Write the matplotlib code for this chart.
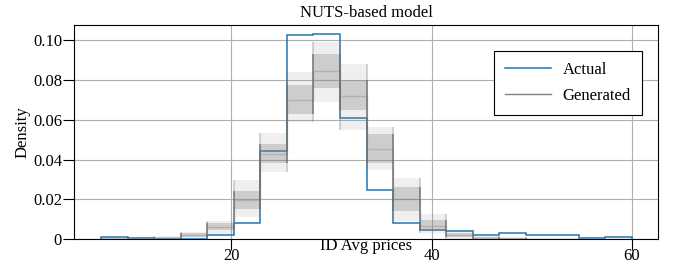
import numpy as np
import matplotlib
matplotlib.use("Agg")
import matplotlib.pyplot as plt

plt.rcParams['font.family'] = 'serif'
plt.rcParams['font.serif'] = ['Liberation Serif', 'DejaVu Serif']

# histogram bin edges (ID Avg prices)
bin_edges = [7.0, 9.65, 12.3, 14.95, 17.6, 20.25, 22.9, 25.55, 28.2, 30.85, 33.5,
             36.15, 38.8, 41.45, 44.1, 46.75, 49.4, 52.05, 54.7, 57.35, 60.0]

# actual density per bin
actual = [0.0013, 0.0008, 0.0003, 0.0002, 0.0022, 0.0084, 0.0444, 0.1027, 0.1029, 0.0610,
          0.0246, 0.0080, 0.0048, 0.0040, 0.0022, 0.0032, 0.0023, 0.0023, 0.0005, 0.0010]

# spread of the generated histograms per bin (min, lower core, middle, upper core, max)
gen_lo = [0.0, 0.0, 0.0, 0.0008, 0.0025, 0.0110, 0.0340, 0.0590, 0.0690, 0.0550,
          0.0350, 0.0090, 0.0030, 0.0004, 0.0, 0.0, 0.0, 0.0, 0.0, 0.0]
gen_q1 = [0.0002, 0.0001, 0.0003, 0.0014, 0.0045, 0.0150, 0.0385, 0.0630, 0.0760, 0.0650,
          0.0385, 0.0140, 0.0040, 0.0010, 0.0004, 0.0002, 0.0001, 0.0001, 0.0, 0.0]
gen_mid = [0.0004, 0.0003, 0.0007, 0.0022, 0.0062, 0.0195, 0.0430, 0.0700, 0.0845, 0.0720,
           0.0455, 0.0200, 0.0065, 0.0020, 0.0009, 0.0005, 0.0002, 0.0002, 0.0001, 0.0001]
gen_q3 = [0.0006, 0.0005, 0.0011, 0.0030, 0.0080, 0.0240, 0.0480, 0.0775, 0.0930, 0.0800,
          0.0530, 0.0260, 0.0095, 0.0030, 0.0014, 0.0008, 0.0004, 0.0003, 0.0002, 0.0002]
gen_hi = [0.0009, 0.0008, 0.0016, 0.0038, 0.0092, 0.0295, 0.0535, 0.0840, 0.0990, 0.0880,
          0.0565, 0.0305, 0.0125, 0.0045, 0.0020, 0.0012, 0.0006, 0.0005, 0.0003, 0.0003]

xticks = [20, 40, 60]
yticks = [0, 0.02, 0.04, 0.06, 0.08, 0.10]
ytick_labels = ['0', '0.02', '0.04', '0.06', '0.08', '0.10']

fig = plt.figure(figsize=(6.73, 2.8), dpi=100)
ax = fig.add_axes([74 / 673, 1 - 239.3 / 280, (658 - 74) / 673, (239.3 - 25) / 280])

# actual histogram
ax.stairs(actual, bin_edges, color='#1f77b4', lw=1.1, label='Actual', zorder=3)

# generated histograms: shaded spread + vertical edges
ax.stairs(gen_hi, bin_edges, baseline=gen_lo, fill=True, color='#808080', alpha=0.12, lw=0, zorder=4)
ax.stairs(gen_q3, bin_edges, baseline=gen_q1, fill=True, color='#808080', alpha=0.3, lw=0, zorder=4)
ax.stairs(gen_mid, bin_edges, color='#808080', lw=1.0, alpha=0.35, zorder=4)

lo_pad = np.concatenate([[0], gen_lo, [0]])
hi_pad = np.concatenate([[0], gen_hi, [0]])
q1_pad = np.concatenate([[0], gen_q1, [0]])
q3_pad = np.concatenate([[0], gen_q3, [0]])
ax.vlines(bin_edges, np.minimum(lo_pad[:-1], lo_pad[1:]), np.maximum(hi_pad[:-1], hi_pad[1:]),
          color='#808080', lw=1.2, alpha=0.4, zorder=4)
ax.vlines(bin_edges, np.minimum(q1_pad[:-1], q1_pad[1:]), np.maximum(q3_pad[:-1], q3_pad[1:]),
          color='#707070', lw=1.2, alpha=0.8, zorder=4)
ax.plot([], [], color='#808080', lw=1.0, label='Generated')

ax.set_xlim(4.3, 62.6)
ax.set_ylim(0, 0.1075)
ax.set_xticks(xticks)
ax.set_yticks(yticks)
ax.set_yticklabels(ytick_labels)
ax.tick_params(direction='out', length=7.6, width=0.8, labelsize=12, pad=1)
ax.tick_params(axis='x', pad=-1.5)
ax.grid(True, color='#b0b0b0', lw=0.8)
ax.set_axisbelow(True)
for s in ax.spines.values():
    s.set_linewidth(0.8)

ax.set_title('NUTS-based model', fontsize=12, pad=6)
ax.set_ylabel('Density', fontsize=12, labelpad=2)
ax.set_xlabel('ID Avg prices', fontsize=12)
ax.xaxis.set_label_coords(0.5, 0.008)

leg = ax.legend(loc='upper right', bbox_to_anchor=(0.972, 0.879), borderaxespad=0,
                fontsize=12, fancybox=False, framealpha=1, edgecolor='black',
                handlelength=2.75, handletextpad=0.7, labelspacing=0.6, borderpad=0.65)
leg.get_frame().set_linewidth(0.8)

fig.savefig('out.png', dpi=100)
